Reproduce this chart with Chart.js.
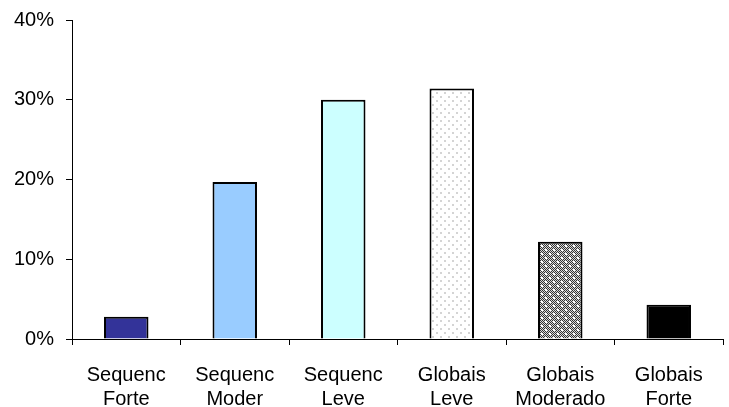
<!DOCTYPE html>
<html>
<head>
<meta charset="utf-8">
<script src="https://cdn.jsdelivr.net/npm/chart.js@4"></script>
<style>
  html, body { margin: 0; padding: 0; background: #fff; }
  #wrap { width: 729px; height: 407px; }
</style>
</head>
<body>
<div id="wrap"><canvas id="myChart" width="729" height="407"></canvas></div>
<script>
// dados do gráfico
var categorias = [['Sequenc', 'Forte'], ['Sequenc', 'Moder'], ['Sequenc', 'Leve'],
                  ['Globais', 'Leve'], ['Globais', 'Moderado'], ['Globais', 'Forte']];
var valores = [2.8, 19.7, 30.0, 31.4, 12.2, 4.3];
var ticksY = [0, 10, 20, 30, 40];

// padrões de preenchimento (pontilhados)
function padraoLeve() {
    var c = document.createElement('canvas');
    c.width = 8; c.height = 8;
    var g = c.getContext('2d');
    g.fillStyle = '#ffffff';
    g.fillRect(0, 0, 8, 8);
    g.fillStyle = '#d4d4d4';
    g.fillRect(0, 0, 2, 2);
    g.fillRect(4, 4, 2, 2);
    return g.createPattern(c, 'repeat');
}

function padraoEscuro() {
    var c = document.createElement('canvas');
    c.width = 8; c.height = 8;
    var g = c.getContext('2d');
    for (var y = 0; y < 8; y++) {
        for (var x = 0; x < 8; x++) {
            g.fillStyle = ((x + y) % 2 === 0) ? '#333333' : '#d8d8d8';
            g.fillRect(x, y, 1, 1);
        }
    }
    g.fillStyle = '#ffffff';
    g.fillRect(1, 1, 2, 2);
    g.fillRect(5, 5, 2, 2);
    return g.createPattern(c, 'repeat');
}

var cores = ['#333399', '#99ccff', '#ccffff', padraoLeve(), padraoEscuro(), '#000000'];

var ctx = document.getElementById('myChart').getContext('2d');
Chart.defaults.font.family = '"Liberation Sans", Arial, sans-serif';
Chart.defaults.color = '#000';

var chart = new Chart(ctx, {
    type: 'bar',
    data: {
        labels: categorias,
        datasets: [{
            data: valores,
            backgroundColor: cores,
            borderColor: '#000',
            borderWidth: 2,
            categoryPercentage: 0.41,
            barPercentage: 1.0
        }]
    },
    options: {
        responsive: false,
        animation: false,
        layout: { padding: { top: 20, right: 6, left: 0, bottom: 0 } },
        plugins: {
            legend: { display: false },
            tooltip: { enabled: false }
        },
        scales: {
            x: {
                grid: {
                    offset: true,
                    drawOnChartArea: false,
                    drawTicks: true,
                    tickLength: 6,
                    color: '#000'
                },
                border: { color: '#000', width: 1 },
                ticks: {
                    font: { size: 20 },
                    padding: 18,
                    maxRotation: 0,
                    autoSkip: false
                },
                afterFit: function(s) {
                    s.height = 68;
                    s.paddingLeft = 0;
                    s.paddingRight = 0;
                }
            },
            y: {
                min: 0,
                max: 40,
                afterBuildTicks: function(s) {
                    s.ticks = ticksY.map(function(v) { return { value: v }; });
                },
                grid: {
                    drawOnChartArea: false,
                    tickLength: 6,
                    color: '#000'
                },
                border: { color: '#000', width: 1 },
                ticks: {
                    font: { size: 20 },
                    padding: 12,
                    callback: function(v) { return v + '%'; }
                },
                afterFit: function(s) {
                    s.width = 72;
                    s.paddingTop = 0;
                    s.paddingBottom = 0;
                }
            }
        }
    }
});
</script>
</body>
</html>
